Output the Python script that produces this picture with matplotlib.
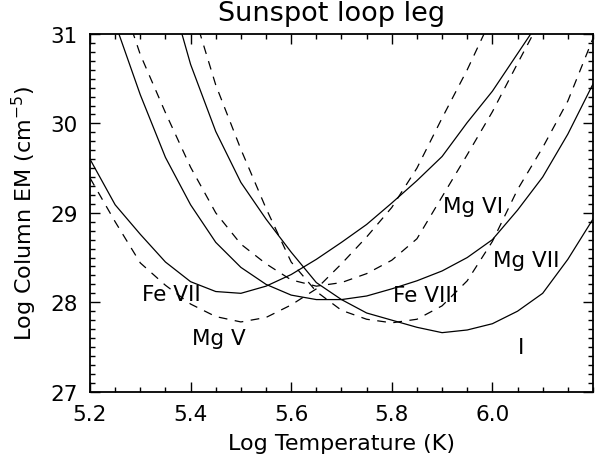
import matplotlib
matplotlib.use("Agg")
import matplotlib.pyplot as plt
from matplotlib.ticker import MultipleLocator

# log T grid (K) and log column emission measure for each line
log_t = [5.20, 5.25, 5.30, 5.35, 5.40, 5.45, 5.50, 5.55, 5.60, 5.65, 5.70,
         5.75, 5.80, 5.85, 5.90, 5.95, 6.00, 6.05, 6.10, 6.15, 6.20]

em_fe7 = [29.60, 29.09, 28.76, 28.45, 28.23, 28.12, 28.10, 28.18, 28.31, 28.48, 28.67,
          28.87, 29.11, 29.36, 29.63, 30.01, 30.36, 30.78, 31.20, 31.65, 32.10]
em_fe8 = [31.95, 31.12, 30.32, 29.62, 29.09, 28.67, 28.39, 28.20, 28.08, 28.03, 28.03,
          28.07, 28.15, 28.24, 28.35, 28.50, 28.70, 29.03, 29.40, 29.88, 30.44]
em_hot = [34.30, 33.40, 32.50, 31.65, 30.66, 29.91, 29.34, 28.93, 28.56, 28.22, 28.03,
          27.88, 27.80, 27.72, 27.66, 27.69, 27.76, 27.90, 28.10, 28.48, 28.93]

em_mg5 = [29.39, 28.90, 28.44, 28.19, 27.98, 27.84, 27.78, 27.83, 27.97, 28.15, 28.43,
          28.73, 29.06, 29.50, 30.06, 30.60, 31.20, 31.80, 32.40, 33.00, 33.60]
em_mg6 = [32.40, 31.60, 30.77, 30.12, 29.51, 29.00, 28.65, 28.43, 28.25, 28.18, 28.22,
          28.32, 28.47, 28.71, 29.18, 29.65, 30.13, 30.67, 31.20, 31.75, 32.30]
em_mg7 = [34.80, 33.90, 33.00, 32.20, 31.35, 30.43, 29.71, 29.05, 28.45, 28.12, 27.91,
          27.81, 27.77, 27.81, 27.96, 28.24, 28.68, 29.26, 29.73, 30.25, 30.95]

ion_names = ["Fe VII", "Mg V", "Fe VIII", "Mg VI", "Mg VII", "I"]
ion_x = [5.303, 5.402, 5.803, 5.902, 6.001, 6.050]
ion_y = [28.09, 27.60, 28.08, 29.08, 28.47, 27.50]

plt.rcParams["font.family"] = ["DejaVu Sans"]

fig = plt.figure(figsize=(6.02, 4.64), dpi=100)
ax = fig.add_axes([0.1495, 0.1537, 0.8355, 0.7709])

for em in (em_fe7, em_fe8, em_hot):
    ax.plot(log_t, em, color="black", lw=0.9)
for em in (em_mg5, em_mg6, em_mg7):
    ax.plot(log_t, em, color="black", lw=0.9, dashes=(7, 6))

for name, x, y in zip(ion_names, ion_x, ion_y):
    ax.text(x, y, name, fontsize=15.5, ha="left", va="center")

ax.set_xlim(5.2, 6.2)
ax.set_ylim(27, 31)
ax.xaxis.set_minor_locator(MultipleLocator(0.05))
ax.yaxis.set_major_locator(MultipleLocator(1))
ax.yaxis.set_minor_locator(MultipleLocator(0.1))
ax.set_xticks([5.2, 5.4, 5.6, 5.8, 6.0])
ax.set_xticklabels(["5.2", "5.4", "5.6", "5.8", "6.0"])
ax.tick_params(which="both", direction="in", top=True, right=True,
               labelsize=15.5, width=1.0)
ax.tick_params(which="major", length=7.5, pad=9)
ax.tick_params(which="minor", length=3.8)
for sp in ax.spines.values():
    sp.set_linewidth(1.3)

ax.set_xlabel("Log Temperature (K)", fontsize=16, labelpad=6)
ax.set_ylabel(r"Log Column EM (cm$^{-5}$)", fontsize=16, labelpad=8)
fig.text(0.551, 0.97, "Sunspot loop leg", fontsize=19.5, ha="center", va="center")

fig.savefig("out.png", dpi=100)
